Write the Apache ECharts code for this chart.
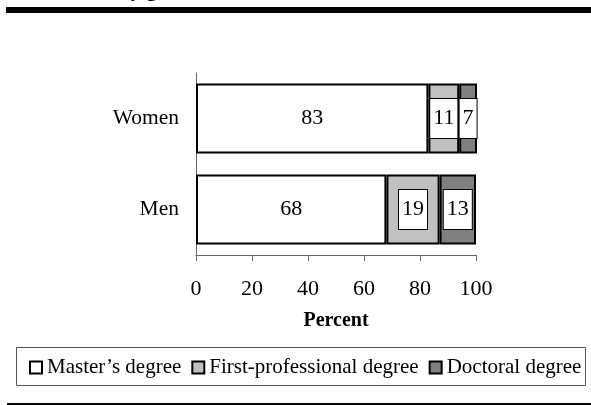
<!DOCTYPE html>
<html>
<head>
<meta charset="utf-8">
<script src="https://cdn.jsdelivr.net/npm/echarts@6/dist/echarts.min.js"></script>
<style>
  html, body { margin: 0; padding: 0; background: #fff; }
  #chart { width: 591px; height: 405px; }
</style>
</head>
<body>
<div id="chart"></div>
<script>
// Distribution of graduate degrees by sex (percent)
const categories = ['Women', 'Men'];
const seriesNames = ['Master\u2019s degree', 'First-professional degree', 'Doctoral degree'];
const masters = [83, 68];
const firstProfessional = [11, 19];
const doctoral = [7, 13];
const xTicks = [0, 20, 40, 60, 80, 100];

const FONT = '"Liberation Serif", "Times New Roman", serif';
const fills = ['#ffffff', '#c0c0c0', '#808080'];

const boxedLabel = {
  show: true,
  position: 'inside',
  color: '#000',
  fontFamily: FONT,
  fontSize: 22,
  backgroundColor: '#fff',
  borderColor: '#000',
  borderWidth: 1,
  padding: [9, 3, 8, 3]
};

function barSeries(name, values, fill, label) {
  return {
    name: name,
    type: 'bar',
    stack: 'total',
    barWidth: 70,
    data: values,
    itemStyle: { color: fill, borderColor: '#000', borderWidth: 2 },
    label: label,
    emphasis: { disabled: true }
  };
}

const chart = echarts.init(document.getElementById('chart'), null, { renderer: 'canvas' });
chart.setOption({
  animation: false,
  backgroundColor: '#fff',
  grid: { left: 196, right: 115, top: 73, bottom: 150, containLabel: false },
  xAxis: {
    type: 'value',
    min: xTicks[0],
    max: xTicks[xTicks.length - 1],
    interval: 20,
    name: 'Percent',
    nameLocation: 'middle',
    nameGap: 56,
    nameTextStyle: { fontFamily: FONT, fontSize: 20, fontWeight: 'bold', color: '#000' },
    axisLine: { show: true, lineStyle: { color: '#666', width: 1 } },
    axisTick: { show: true, length: 6, lineStyle: { color: '#666' } },
    axisLabel: { fontFamily: FONT, fontSize: 22, color: '#000', margin: 23 },
    splitLine: { show: false }
  },
  yAxis: {
    type: 'category',
    data: categories,
    inverse: true,
    axisLine: { show: true, lineStyle: { color: '#666', width: 1 } },
    axisTick: { show: false },
    axisLabel: { fontFamily: FONT, fontSize: 21.5, color: '#000', margin: 17 },
    splitLine: { show: false }
  },
  legend: {
    left: 29,
    top: 357,
    width: 560,
    padding: 0,
    itemWidth: 12,
    itemHeight: 12,
    itemGap: 10,
    icon: 'rect',
    itemStyle: { borderColor: '#000', borderWidth: 2 },
    textStyle: { fontFamily: FONT, fontSize: 21, color: '#000' },
    data: seriesNames,
    selectedMode: false
  },
  series: [
    barSeries(seriesNames[0], masters, fills[0], {
      show: true, position: 'inside', color: '#000', fontFamily: FONT, fontSize: 22
    }),
    barSeries(seriesNames[1], firstProfessional, fills[1], boxedLabel),
    barSeries(seriesNames[2], doctoral, fills[2], boxedLabel)
  ],
  graphic: [
    // heading line, only its lower edge falls inside the page
    {
      type: 'text', left: 119, top: -20, silent: true,
      style: { text: 'by gender', fontFamily: FONT, fontSize: 21, fontWeight: 'bold', fill: '#000' }
    },
    { type: 'rect', shape: { x: 6, y: 7, width: 585, height: 6 }, style: { fill: '#000' }, silent: true },
    { type: 'rect', shape: { x: 16.5, y: 347.5, width: 569, height: 38 },
      style: { fill: 'none', stroke: '#555', lineWidth: 1 }, silent: true, z: -1 },
    { type: 'rect', shape: { x: 7, y: 403, width: 584, height: 4 }, style: { fill: '#000' }, silent: true }
  ]
});
</script>
</body>
</html>
